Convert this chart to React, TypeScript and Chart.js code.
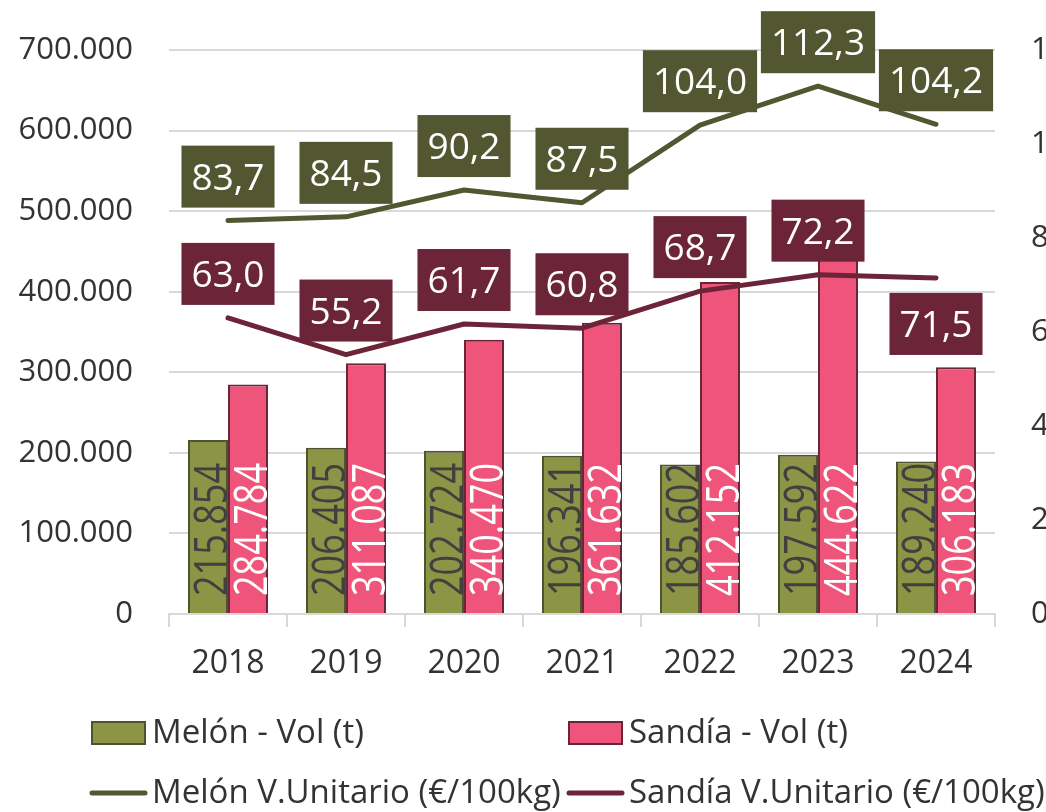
import React, { useEffect, useRef } from "react";
import { Chart, registerables } from "chart.js";

Chart.register(...registerables);

const years = ["2018", "2019", "2020", "2021", "2022", "2023", "2024"];
const melonVol = [215854, 206405, 202724, 196341, 185602, 197592, 189240];
const sandiaVol = [284784, 311087, 340470, 361632, 412152, 444622, 306183];
const melonPrice = [83.7, 84.5, 90.2, 87.5, 104.0, 112.3, 104.2];
const sandiaPrice = [63.0, 55.2, 61.7, 60.8, 68.7, 72.2, 71.5];
// label placement for the line labels (style, not data)
const melonLabelBelow = [false, false, false, false, false, false, false];
const sandiaLabelBelow = [false, false, false, false, false, false, true];

const FONT = '"Open Sans", "Noto Sans", sans-serif';
const OLIVE = "#8c9445";
const OLIVE_BORDER = "#4f5430";
const PINK = "#ef557b";
const PINK_BORDER = "#6b2538";
const OLIVE_LINE = "#525731";
const MAROON_LINE = "#6b2438";
const TEXT = "#333333";
const GRID = "#d9d9d9";

const fmtThousands = (v: number) =>
  String(Math.round(v)).replace(/\B(?=(\d{3})+(?!\d))/g, ".");
const fmtDec = (v: number) => v.toFixed(1).replace(".", ",");

const valueLabels = {
  id: "valueLabels",
  afterDatasetsDraw(chart: any) {
    const ctx = chart.ctx as CanvasRenderingContext2D;
    chart.data.datasets.forEach((ds: any, i: number) => {
      const meta = chart.getDatasetMeta(i);
      if (meta.hidden) return;
      if (ds.type === "bar") {
        const fs = 45;
        meta.data.forEach((el: any, j: number) => {
          const text = fmtThousands(ds.data[j]);
          ctx.save();
          ctx.translate(el.x + 3 + 0.357 * fs, el.base - 17);
          ctx.rotate(-Math.PI / 2);
          ctx.scale(0.8, 1);
          ctx.font = `375 ${fs}px ${FONT}`;
          ctx.textAlign = "left";
          ctx.textBaseline = "alphabetic";
          ctx.fillStyle = ds.labelColor;
          ctx.fillText(text, 0, 0);
          ctx.restore();
        });
      } else {
        const fs = 37;
        meta.data.forEach((el: any, j: number) => {
          const text = fmtDec(ds.data[j]);
          ctx.save();
          ctx.font = `${fs}px ${FONT}`;
          const w = ctx.measureText(text).width + 20;
          const h = 62;
          const below = ds.labelBelow && ds.labelBelow[j];
          const cy = below ? el.y + 15 + h / 2 : el.y - 13 - h / 2;
          ctx.fillStyle = ds.borderColor;
          ctx.fillRect(el.x - w / 2, cy - h / 2, w, h);
          ctx.fillStyle = "#ffffff";
          ctx.textAlign = "center";
          ctx.textBaseline = "alphabetic";
          ctx.fillText(text, el.x, cy + 0.357 * fs);
          ctx.restore();
        });
      }
    });
  },
};

const customLegend = {
  id: "customLegend",
  afterDraw(chart: any) {
    const ctx = chart.ctx as CanvasRenderingContext2D;
    const cols = [92, 569];
    const rows = [733, 793];
    const symW = 53;
    const gap = 7;
    ctx.save();
    ctx.font = `33px ${FONT}`;
    ctx.textAlign = "left";
    ctx.textBaseline = "middle";
    chart.data.datasets.forEach((ds: any, i: number) => {
      const isBar = ds.type === "bar";
      const row = isBar ? 0 : 1;
      const col = i % 2;
      const x = cols[col];
      const y = rows[row];
      if (isBar) {
        ctx.fillStyle = ds.backgroundColor;
        ctx.fillRect(x, y - 11, symW, 22);
        ctx.strokeStyle = ds.borderColor;
        ctx.lineWidth = 2;
        ctx.strokeRect(x, y - 11, symW, 22);
      } else {
        ctx.strokeStyle = ds.borderColor;
        ctx.lineWidth = 5;
        ctx.lineCap = "round";
        ctx.beginPath();
        ctx.moveTo(x, y);
        ctx.lineTo(x + symW, y);
        ctx.stroke();
      }
      ctx.fillStyle = TEXT;
      ctx.fillText(ds.label, x + symW + gap, y + 1);
    });
    ctx.restore();
  },
};

export default function App() {
  const ref = useRef<HTMLCanvasElement | null>(null);

  useEffect(() => {
    document.body.style.margin = "0";
    if (!ref.current) return;
    const chart = new Chart(ref.current, {
      type: "bar",
      data: {
        labels: years,
        datasets: [
          {
            type: "bar",
            label: "Melón - Vol (t)",
            data: melonVol,
            backgroundColor: OLIVE,
            borderColor: OLIVE_BORDER,
            borderWidth: 2,
            yAxisID: "y",
            order: 1,
            barPercentage: 1,
            categoryPercentage: 0.678,
            labelColor: "#404040",
          } as any,
          {
            type: "bar",
            label: "Sandía - Vol (t)",
            data: sandiaVol,
            backgroundColor: PINK,
            borderColor: PINK_BORDER,
            borderWidth: 2,
            yAxisID: "y",
            order: 1,
            barPercentage: 1,
            categoryPercentage: 0.678,
            labelColor: "#ffffff",
          } as any,
          {
            type: "line",
            label: "Melón V.Unitario (€/100kg)",
            data: melonPrice,
            borderColor: OLIVE_LINE,
            backgroundColor: OLIVE_LINE,
            borderWidth: 5,
            borderCapStyle: "round",
            borderJoinStyle: "round",
            pointRadius: 0,
            tension: 0,
            yAxisID: "y1",
            order: 0,
            labelBelow: melonLabelBelow,
          } as any,
          {
            type: "line",
            label: "Sandía V.Unitario (€/100kg)",
            data: sandiaPrice,
            borderColor: MAROON_LINE,
            backgroundColor: MAROON_LINE,
            borderWidth: 5,
            borderCapStyle: "round",
            borderJoinStyle: "round",
            pointRadius: 0,
            tension: 0,
            yAxisID: "y1",
            order: 0,
            labelBelow: sandiaLabelBelow,
          } as any,
        ],
      },
      options: {
        responsive: false,
        animation: false,
        devicePixelRatio: 1,
        layout: { padding: { top: 50, left: 0, right: 0, bottom: 0 } },
        plugins: {
          legend: { display: false },
          tooltip: { enabled: false },
        },
        scales: {
          x: {
            grid: {
              offset: true,
              drawOnChartArea: false,
              drawTicks: true,
              tickLength: 13,
              color: GRID,
              lineWidth: 2,
            },
            border: { display: true, color: GRID, width: 2 },
            ticks: {
              font: { family: FONT, size: 32 },
              color: TEXT,
              padding: 18,
              maxRotation: 0,
            },
            afterFit(s: any) {
              s.height = 198;
            },
          },
          y: {
            position: "left",
            min: 0,
            max: 700000,
            ticks: {
              stepSize: 100000,
              callback: (v: any) => fmtThousands(Number(v)),
              font: { family: FONT, size: 31 },
              color: TEXT,
              padding: 36,
            },
            grid: { color: GRID, lineWidth: 2, drawTicks: false },
            border: { display: false },
            afterFit(s: any) {
              s.width = 169;
              s.paddingTop = 10;
              s.paddingBottom = 10;
            },
          },
          y1: {
            position: "right",
            min: 0,
            max: 120,
            ticks: {
              stepSize: 20,
              font: { family: FONT, size: 31 },
              color: TEXT,
              padding: 36,
            },
            grid: { display: false, drawTicks: false },
            border: { display: false },
            afterFit(s: any) {
              s.width = 125;
              s.paddingTop = 10;
              s.paddingBottom = 10;
            },
          },
        },
      } as any,
      plugins: [valueLabels, customLegend],
    });
    return () => chart.destroy();
  }, []);

  return (
    <div style={{ width: 1046, height: 812, overflow: "hidden", position: "relative" }}>
      <canvas ref={ref} width={1120} height={812} style={{ display: "block" }} />
    </div>
  );
}
